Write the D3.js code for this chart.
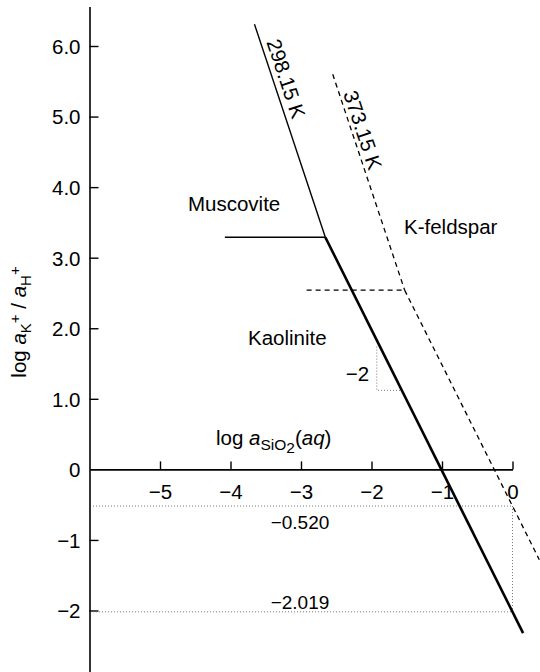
<!DOCTYPE html>
<html><head><meta charset="utf-8">
<script src="https://cdn.jsdelivr.net/npm/d3@7"></script>
<style>
html,body{margin:0;padding:0;background:#fff;}
svg{display:block;font-family:"Liberation Sans",Arial,Helvetica,sans-serif;}
</style></head><body>
<svg id="chart" width="540" height="672"></svg>
<script>
// Activity diagram: K2O–Al2O3–SiO2–H2O phase boundaries, log aSiO2(aq) vs log(aK+/aH+)
const xTicks = [-5, -4, -3, -2, -1, 0];
const xTickLabels = ["−5", "−4", "−3", "−2", "−1", "0"];
const yTicks = [-2, -1, 0, 1, 2, 3, 4, 5, 6];
const yTickLabels = ["−2", "−1", "0", "1.0", "2.0", "3.0", "4.0", "5.0", "6.0"];

// boundaries at 298.15 K (solid)
const musKfs298 = [[-3.66, 6.31], [-2.655, 3.29]];
const musKao298 = [[-4.08, 3.29], [-2.655, 3.29]];
const kaoKfs298 = [[-2.655, 3.29], [0.15, -2.32]];
// boundaries at 373.15 K (dashed)
const musKfs373 = [[-2.55, 5.60], [-1.53, 2.54]];
const musKao373 = [[-2.92, 2.54], [-1.53, 2.54]];
const kaoKfs373 = [[-1.53, 2.54], [0.38, -1.28]];

// kaolinite / K-feldspar intercepts at log aSiO2 = 0
const intercepts = [-0.520, -2.019];
const interceptLabels = ["−0.520", "−2.019"];

// slope triangle on the 298.15 K kaolinite / K-feldspar line
const slopeRun = [-1.925, -1.57];
const slopeRise = [1.12, 1.74];
const slopeLabel = "−2";

const fieldNames = ["Muscovite", "K-feldspar", "Kaolinite"];
const tempLabels = ["298.15 K", "373.15 K"];

const svg = d3.select("#chart");
const x = d3.scaleLinear().domain([-6, 0]).range([89.5, 512.5]);
const y = d3.scaleLinear().domain([-2, 6]).range([610.5, 46]);
const FS = 20.5;

const line = d3.line().x(d => x(d[0])).y(d => y(d[1]));

// axes
const xAxis = d3.axisBottom(x)
  .tickValues(xTicks)
  .tickFormat((d, i) => xTickLabels[i])
  .tickSizeInner(-8).tickSizeOuter(0).tickPadding(15);
const gx = svg.append("g").attr("transform", `translate(0,${y(0)})`).call(xAxis);

const yAxisScale = y.copy().domain([-2.87, 6.56]).range([-2.87, 6.56].map(y));
const yAxis = d3.axisLeft(yAxisScale)
  .tickValues(yTicks)
  .tickFormat((d, i) => yTickLabels[i])
  .tickSizeInner(-9).tickSizeOuter(0).tickPadding(9);
const gy = svg.append("g").attr("transform", `translate(${x(-6)},0)`).call(yAxis);

[gx, gy].forEach(g => {
  g.select(".domain").attr("stroke", "#000").attr("stroke-width", 1.6);
  g.selectAll(".tick line").attr("stroke", "#000").attr("stroke-width", 1.4);
  g.selectAll(".tick text").attr("font-size", FS).attr("fill", "#000")
    .attr("font-family", "'Liberation Sans', Arial, sans-serif");
});
gy.selectAll(".tick").filter(d => d === 0).select("line").remove();
gy.selectAll(".tick text").attr("dy", "0.36em");

// dotted guides to the intercepts
const guide = svg.append("g").attr("stroke", "#777").attr("stroke-width", 1)
  .attr("stroke-dasharray", "1,2").attr("fill", "none");
intercepts.forEach(v => {
  guide.append("path").attr("d", line([[-5.95, v], [0, v]]));
});
guide.append("path").attr("d", line([[0, intercepts[0]], [0, intercepts[1]]]));
guide.append("path").attr("d", line([[slopeRun[0], slopeRise[1]], [slopeRun[0], slopeRise[0]], [slopeRun[1], slopeRise[0]]]));

// phase boundaries
[musKfs298, musKao298].forEach(seg => svg.append("path").attr("d", line(seg))
  .attr("fill", "none").attr("stroke", "#000").attr("stroke-width", 1.4));
svg.append("path").attr("d", line(kaoKfs298))
  .attr("fill", "none").attr("stroke", "#000").attr("stroke-width", 2.6);
[musKfs373, musKao373, kaoKfs373].forEach(seg => svg.append("path").attr("d", line(seg))
  .attr("fill", "none").attr("stroke", "#000").attr("stroke-width", 1.3)
  .attr("stroke-dasharray", "5,4"));

// text helpers
function label(txt, dx, dy, anchor, size) {
  return svg.append("text").attr("x", x(dx)).attr("y", y(dy))
    .attr("text-anchor", anchor || "start").attr("font-size", size || FS)
    .attr("fill", "#000").text(txt);
}

label(fieldNames[0], -4.603, 3.662);
label(fieldNames[1], -1.539, 3.336);
label(fieldNames[2], -3.752, 1.763);
label(slopeLabel, -2.035, 1.253, "end");
label(interceptLabels[0], -3.014, -0.849, "middle", 19);
label(interceptLabels[1], -3.014, -1.978, "middle", 19);

// temperature labels set along their boundaries, offset to the upper-right side
function angleOf(seg) {
  const dx = x(seg[1][0]) - x(seg[0][0]);
  const dy = y(seg[1][1]) - y(seg[0][1]);
  return Math.atan2(dy, dx) * 180 / Math.PI;
}
[[tempLabels[0], musKfs298, 5.48, 13], [tempLabels[1], musKfs373, 4.76, 11]].forEach(([t, seg, py, off]) => {
  const a = angleOf(seg);
  const r = a * Math.PI / 180;
  // point on the boundary at this height
  const t0 = (py - seg[0][1]) / (seg[1][1] - seg[0][1]);
  const px = x(seg[0][0] + t0 * (seg[1][0] - seg[0][0]));
  const cx = px + off * Math.sin(r);
  const cy = y(py) - off * Math.cos(r);
  svg.append("text")
    .attr("transform", `translate(${cx},${cy}) rotate(${a})`)
    .attr("text-anchor", "middle").attr("dy", "0.36em")
    .attr("font-size", FS).attr("fill", "#000").text(t);
});

// x-axis title: log a_SiO2(aq)
const xt = svg.append("text").attr("x", x(-4.206)).attr("y", y(0.346))
  .attr("font-size", FS).attr("fill", "#000");
xt.append("tspan").text("log ");
xt.append("tspan").attr("font-style", "italic").text("a");
xt.append("tspan").attr("font-size", 15.5).attr("dy", 5).text("SiO");
xt.append("tspan").attr("font-size", 15.5).attr("dy", 3).text("2");
xt.append("tspan").attr("dy", -8).text("(");
xt.append("tspan").attr("font-style", "italic").text("aq");
xt.append("tspan").text(")");

// y-axis title: log a_K+ / a_H+
const yt = svg.append("text").attr("transform", "translate(26,322) rotate(-90)")
  .attr("text-anchor", "middle").attr("font-size", FS).attr("fill", "#000");
yt.append("tspan").text("log ");
yt.append("tspan").attr("font-style", "italic").text("a");
yt.append("tspan").attr("font-size", 15).attr("dy", 5).text("K");
yt.append("tspan").attr("font-size", 15).attr("dy", -11).text("+");
yt.append("tspan").attr("dy", 6).text(" / ");
yt.append("tspan").attr("font-style", "italic").text("a");
yt.append("tspan").attr("font-size", 15).attr("dy", 5).text("H");
yt.append("tspan").attr("font-size", 15).attr("dy", -11).text("+");
</script>
</body></html>
